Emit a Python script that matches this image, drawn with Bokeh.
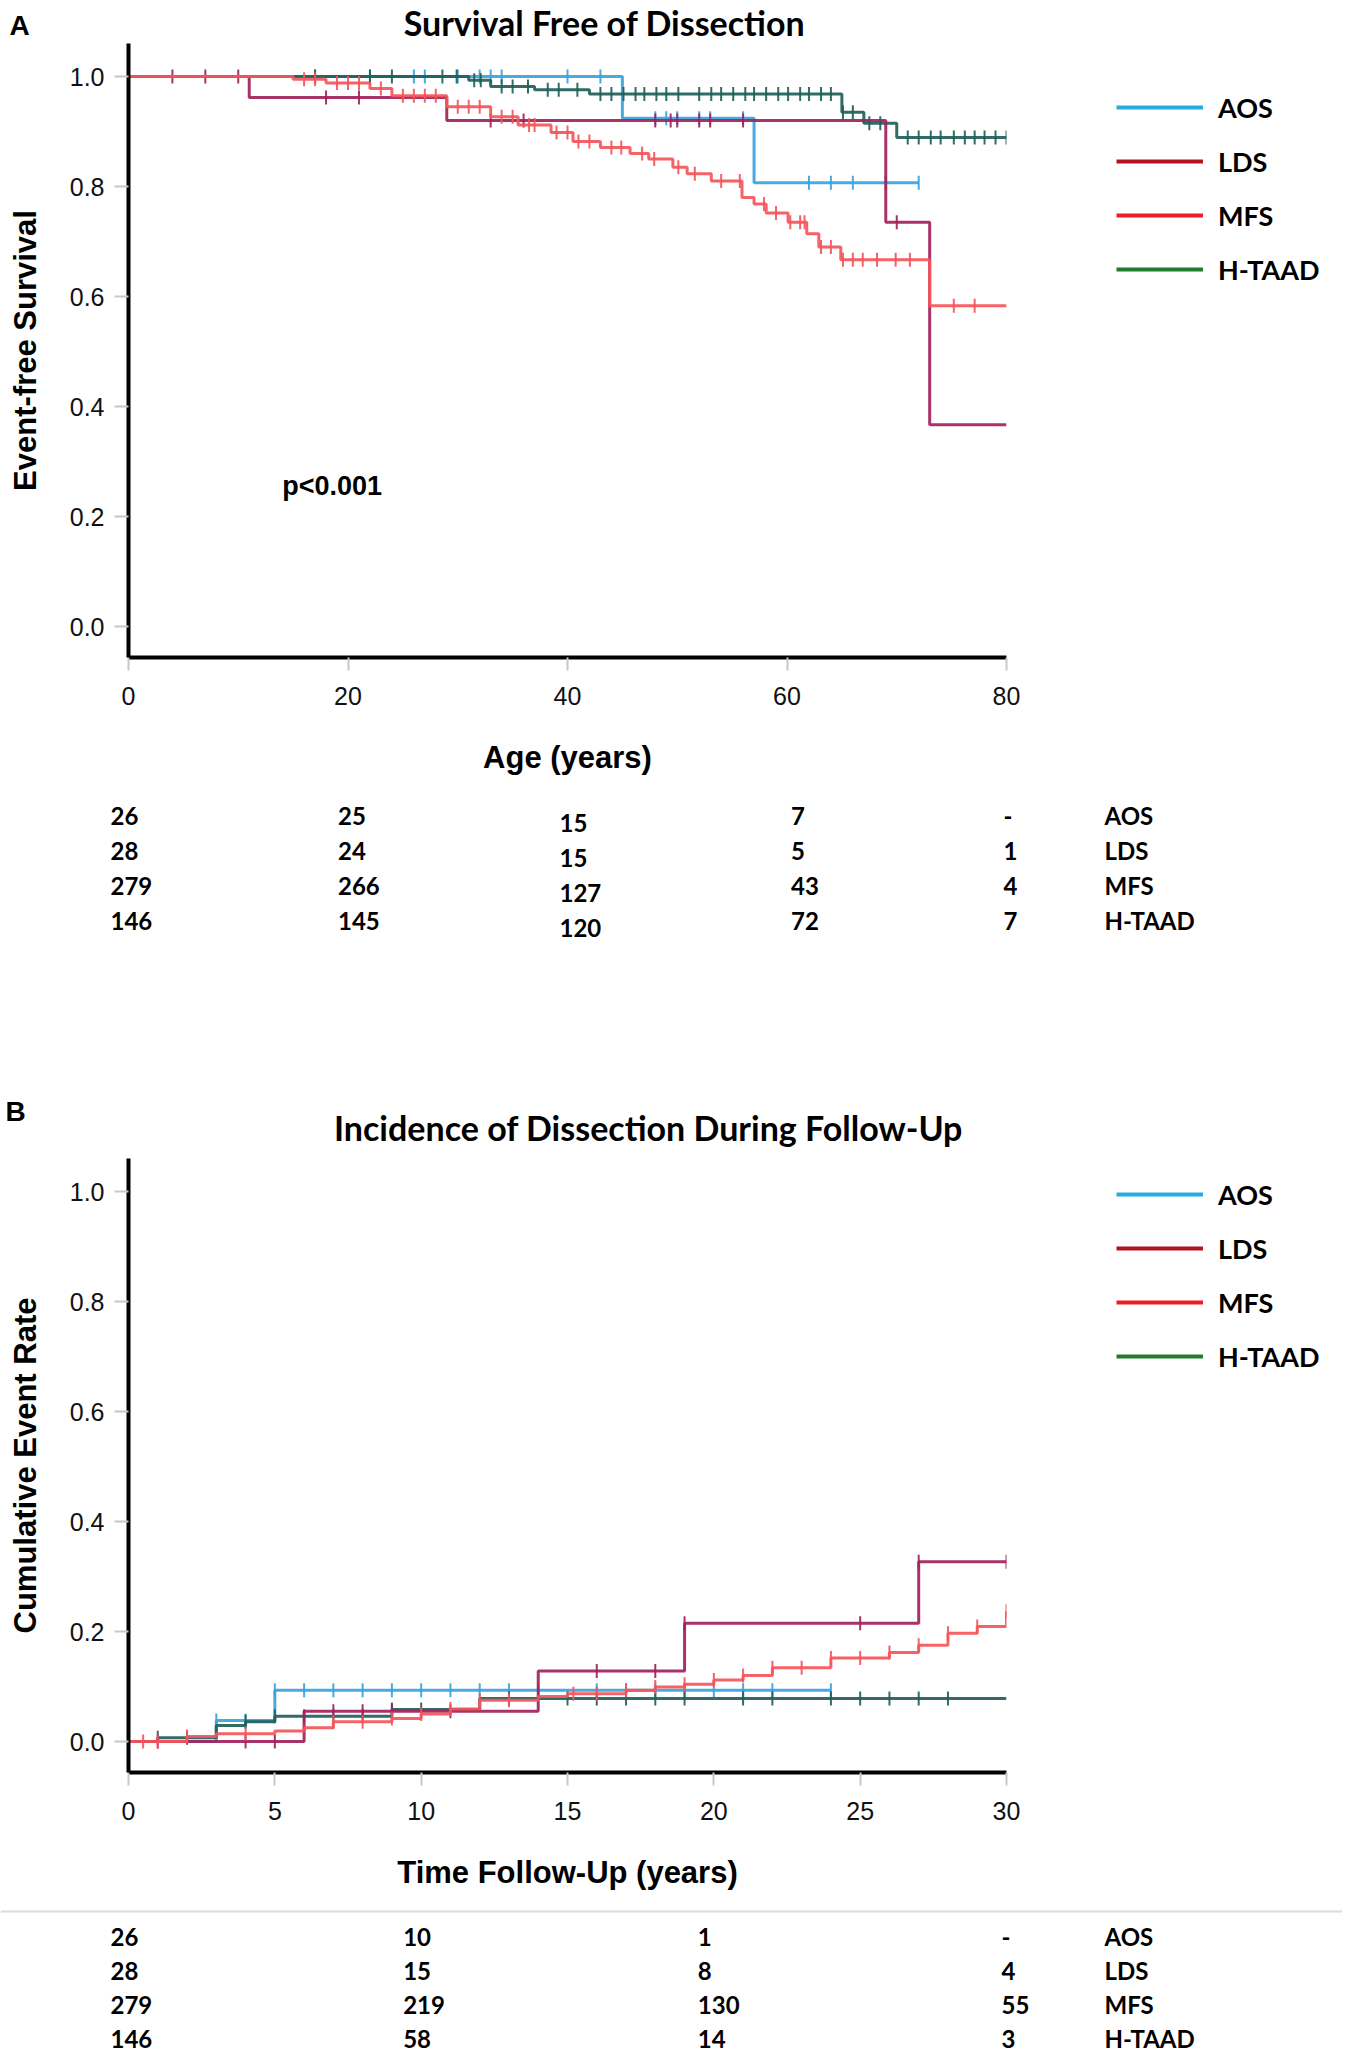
import numpy as np
from bokeh.plotting import figure
from bokeh.models import (Range1d, FixedTicker, PrintfTickFormatter, Legend, LegendItem, Span)
from bokeh.layouts import column, row
from bokeh.core.properties import value
from bokeh.embed import file_html
from bokeh.resources import INLINE

# ---------------- data ----------------
groups = ["AOS", "LDS", "MFS", "H-TAAD"]

# Panel A: survival free of dissection vs age (years)
a_aos_t = [0, 45, 57, 72]
a_aos_s = [1.0, 0.924, 0.807, 0.807]
a_aos_c = [17, 22, 26, 27, 30, 32, 33, 34, 40, 43, 48, 49, 50, 52, 53, 56, 62, 64, 66, 69, 72]

a_lds_t = [0, 11, 29, 69, 73, 80]
a_lds_s = [1.0, 0.962, 0.92, 0.735, 0.367, 0.367]
a_lds_c = [4, 7, 10, 18, 21, 33, 36, 48, 49.4, 50, 52, 53, 56, 70]

a_mfs_t = [0, 15, 18, 22, 24, 29, 33, 35.5, 38.5, 40.5, 43, 45.7, 47.4, 49.6, 50.9,
           53.1, 55.9, 57, 58.1, 60.1, 61.8, 62.9, 64.9, 73, 80]
a_mfs_s = [1.0, 0.995, 0.988, 0.978, 0.965, 0.945, 0.927, 0.912, 0.898, 0.882, 0.871,
           0.86, 0.85, 0.835, 0.823, 0.81, 0.78, 0.768, 0.752, 0.735, 0.714, 0.69,
           0.667, 0.583, 0.583]
a_mfs_c = [16, 17, 19, 20, 21, 23, 25, 26, 27, 28, 30, 31, 32, 34, 35, 36.5, 37, 39,
           40, 41, 42, 44, 44.9, 46.8, 47.9, 50.1, 51.6, 54, 55.7, 57.9, 59, 60.3,
           61.2, 61.6, 63.1, 64, 65.1, 66, 66.9, 68.2, 69.9, 71.2, 75.2, 77.1]

a_htaad_t = [0, 31, 33, 37, 42, 65, 67, 70, 80]
a_htaad_s = [1.0, 0.993, 0.982, 0.976, 0.968, 0.935, 0.915, 0.889, 0.889]
a_htaad_c = [17, 22, 24, 28.6, 29.9, 31.5, 32.1, 34, 35, 36.4, 38.2, 39.2, 40.9, 43,
             44, 45.1, 46.2, 47, 48.1, 49, 50.1, 52, 53.1, 54, 55.1, 56.2, 57, 58.1,
             59.2, 60.1, 61.2, 62, 63.1, 64, 65.1, 66, 67.5, 68.5, 71, 72, 73.1, 74,
             75.2, 76.2, 77.1, 78, 79, 80]

a_risk_times = [0, 20, 40, 60, 80]
a_risk = {
    "AOS": ["26", "25", "15", "7", "-"],
    "LDS": ["28", "24", "15", "5", "1"],
    "MFS": ["279", "266", "127", "43", "4"],
    "H-TAAD": ["146", "145", "120", "72", "7"],
}

# Panel B: cumulative incidence during follow-up (years)
b_aos_t = [0, 3, 5, 24]
b_aos_s = [0.0, 0.038, 0.093, 0.093]
b_aos_c = [3, 4, 5, 6, 7, 8, 9, 10, 11, 12, 13, 14, 16, 17, 18, 19, 20, 21, 22, 24]

b_lds_t = [0, 6, 14, 19, 27, 30]
b_lds_s = [0.0, 0.055, 0.128, 0.215, 0.327, 0.327]
b_lds_c = [1, 4, 5, 7, 8, 9, 11, 16, 18, 19, 25, 27, 30]

b_mfs_t = [0, 2, 3, 5, 6, 7, 9, 10, 11, 12, 14, 15, 17, 18, 19, 20, 21, 22, 24, 26,
           27, 28, 29, 30]
b_mfs_s = [0.0, 0.009, 0.014, 0.019, 0.025, 0.036, 0.042, 0.05, 0.059, 0.075, 0.082,
           0.087, 0.093, 0.099, 0.104, 0.112, 0.12, 0.134, 0.152, 0.162, 0.175, 0.197,
           0.209, 0.237]
b_mfs_c = [0.5, 1, 2, 4, 7, 8, 9, 10, 11, 12, 13, 15.2, 16, 17, 18, 19, 20, 21, 22,
           23, 24, 25, 26, 27, 28, 29, 30]

b_htaad_t = [0, 1, 3, 4, 5, 9, 12, 30]
b_htaad_s = [0.0, 0.007, 0.029, 0.036, 0.046, 0.058, 0.078, 0.078]
b_htaad_c = [1, 2, 4, 5, 6, 7, 8, 9, 10, 13, 15, 16, 17, 18, 19, 21, 22, 24, 25, 26,
             27, 28]

b_risk_times = [0, 10, 20, 30]
b_risk = {
    "AOS": ["26", "10", "1", "-"],
    "LDS": ["28", "15", "8", "4"],
    "MFS": ["279", "219", "130", "55"],
    "H-TAAD": ["146", "58", "14", "3"],
}

y_ticks = [0.0, 0.2, 0.4, 0.6, 0.8, 1.0]
a_x_ticks = [0, 20, 40, 60, 80]
b_x_ticks = [0, 5, 10, 15, 20, 25, 30]

# ---------------- styles / layout ----------------
plot_colors = {"AOS": "#3aa3de", "LDS": "#a2215b", "MFS": "#f4555a", "H-TAAD": "#1f5f59"}
legend_colors = {"AOS": "#29abe2", "LDS": "#b0151f", "MFS": "#ee1c25", "H-TAAD": "#237a2e"}
draw_order = ["AOS", "H-TAAD", "LDS", "MFS"]

FIG_W = 1342
BORDER_L = 128            # frame left inside main figure
FRAME_W = 878             # x axis pixel length
BORDER_R = 20
MAIN_W = BORDER_L + FRAME_W + BORDER_R
LEG_W = FIG_W - MAIN_W
FRAME_H = 614
BORDER_B = 133
MAIN_H = FRAME_H + BORDER_B
PX_PER_Y = 550.0
Y_MAX = 1.0 + 33.0 / PX_PER_Y
Y_MIN = Y_MAX - FRAME_H / PX_PER_Y
TXT = "Lato"
AXF = "Liberation Sans"


def value_at(ts, ss, c):
    i = int(np.searchsorted(np.asarray(ts, dtype=float), c, side="right")) - 1
    return ss[max(i, 0)]


def blank(width, height, xr, yr):
    p = figure(width=width, height=height, x_range=xr, y_range=yr,
               output_backend="svg", toolbar_location=None,
               min_border_left=0, min_border_right=0, min_border_top=0,
               min_border_bottom=0)
    p.axis.visible = False
    p.grid.visible = False
    p.outline_line_color = None
    p.background_fill_color = "white"
    p.border_fill_color = "white"
    return p


def head(top, bottom, letter, letter_xy, title, title_xy):
    p = blank(FIG_W, bottom - top, Range1d(0, FIG_W), Range1d(bottom, top))
    p.text(x=[letter_xy[0]], y=[letter_xy[1]], text=[letter], text_font=value(AXF),
           text_font_style="bold", text_font_size="28px", text_align="left",
           text_baseline="middle", text_color="black")
    p.text(x=[title_xy[0]], y=[title_xy[1]], text=[title], text_font=value(TXT),
           text_font_style="bold", text_font_size="34px", text_align="center",
           text_baseline="middle", text_color="black")
    return p


def main(x_end, x_ticks, curves, xlabel, ylabel, pval=None):
    p = figure(width=MAIN_W, height=MAIN_H, x_range=Range1d(0, x_end),
               y_range=Range1d(Y_MIN, Y_MAX), output_backend="svg",
               toolbar_location=None, min_border_left=BORDER_L,
               min_border_right=BORDER_R, min_border_top=0,
               min_border_bottom=BORDER_B)
    p.outline_line_color = None
    p.grid.visible = False
    p.background_fill_color = "white"
    p.border_fill_color = "white"
    for ax in (p.xaxis[0], p.yaxis[0]):
        ax.axis_line_width = 4
        ax.axis_line_color = "black"
        ax.major_tick_line_color = "#c8c8c8"
        ax.major_tick_line_width = 2
        ax.major_tick_in = 0
        ax.minor_tick_line_color = None
        ax.major_label_text_font = AXF
        ax.major_label_text_font_size = "25px"
        ax.major_label_text_color = "#111111"
        ax.axis_label_text_font = AXF
        ax.axis_label_text_font_style = "bold"
        ax.axis_label_text_font_size = "31px"
        ax.axis_label_text_color = "black"
    p.xaxis.ticker = FixedTicker(ticks=x_ticks)
    p.xaxis.major_tick_out = 13
    p.xaxis.major_label_standoff = 16
    p.xaxis.axis_label = xlabel
    p.xaxis.axis_label_standoff = 32
    p.yaxis.ticker = FixedTicker(ticks=y_ticks)
    p.yaxis.formatter = PrintfTickFormatter(format="%.1f")
    p.yaxis.major_tick_out = 14
    p.yaxis.major_label_standoff = 10
    p.yaxis.axis_label = ylabel
    p.yaxis.axis_label_standoff = 24

    for g in draw_order:
        ts, ss, cs = curves[g]
        col = plot_colors[g]
        p.step(ts, ss, mode="after", line_width=3, line_color=col, line_alpha=0.92)
        cy = [value_at(ts, ss, c) for c in cs]
        p.scatter(cs, cy, marker="dash", angle=np.pi / 2, size=14,
                  line_color=col, line_width=2, line_alpha=0.92)
    if pval is not None:
        p.text(x=[pval[0]], y=[pval[1]], text=[pval[2]], text_font=value(AXF),
               text_font_style="bold", text_font_size="27px", text_align="left",
               text_baseline="middle", text_color="black")
    return p


def legend_fig(leg_bottom_from_frame_bottom):
    # in a row, this figure's frame is aligned with the plot frame beside it
    p = blank(LEG_W, MAIN_H, Range1d(0, LEG_W), Range1d(0, 1))
    items = []
    for g in groups:
        r = p.line(x=[-50, -40], y=[-50, -50], line_color=legend_colors[g], line_width=4)
        items.append(LegendItem(label=g, renderers=[r]))
    lg = Legend(items=items, location=(90, leg_bottom_from_frame_bottom), padding=0,
                margin=0, border_line_color=None, background_fill_alpha=0,
                glyph_width=87, glyph_height=34, label_height=34, label_standoff=15,
                spacing=20, label_text_font=TXT, label_text_font_style="bold",
                label_text_font_size="27px", label_text_color="black")
    p.add_layout(lg)
    return p


def table(height, x_end, risk_times, risk, row0, row_gap, col_dy, col_dx, sep=None):
    pxu = FRAME_W / x_end
    xr = Range1d(-BORDER_L / pxu, (FIG_W - BORDER_L) / pxu)
    p = blank(FIG_W, height, xr, Range1d(height, 0))
    xs, ys, txt = [], [], []
    for ri, g in enumerate(groups):
        for ci, t in enumerate(risk_times):
            xs.append(t + col_dx[ci] / pxu)
            ys.append(row0 + row_gap * ri + col_dy[ci])
            txt.append(risk[g][ci])
    p.text(x=xs, y=ys, text=txt, text_font=value(TXT),
           text_font_style="bold", text_font_size="24px", text_align="left",
           text_baseline="middle", text_color="black")
    p.text(x=[x_end] * 4, y=[row0 + row_gap * ri for ri in range(4)], text=groups,
           x_offset=98, text_font=value(TXT), text_font_style="bold",
           text_font_size="24px", text_align="left", text_baseline="middle",
           text_color="black")
    if sep is not None:
        p.add_layout(Span(location=sep, dimension="width", line_color="#dcdcdc",
                          line_width=2))
    return p


curves_a = {
    "AOS": (a_aos_t, a_aos_s, a_aos_c),
    "LDS": (a_lds_t, a_lds_s, a_lds_c),
    "MFS": (a_mfs_t, a_mfs_s, a_mfs_c),
    "H-TAAD": (a_htaad_t, a_htaad_s, a_htaad_c),
}
curves_b = {
    "AOS": (b_aos_t, b_aos_s, b_aos_c),
    "LDS": (b_lds_t, b_lds_s, b_lds_c),
    "MFS": (b_mfs_t, b_mfs_s, b_mfs_c),
    "H-TAAD": (b_htaad_t, b_htaad_s, b_htaad_c),
}

# panel A (reference y: head 0-43, plot 43-790, table 790-1000)
head_a = head(0, 43, "A", (9, 25), "Survival Free of Dissection", (604, 22))
main_a = main(80, a_x_ticks, curves_a, "Age (years)", "Event-free Survival",
              pval=(14.0, 0.255, "p<0.001"))
leg_a = legend_fig(371)
tab_a = table(210, 80, a_risk_times, a_risk, 25, 35, [0, 0, 7, 0, 0],
              [-18, -10, -8, 4, -3])

# panel B (reference y: head 1000-1158, plot 1158-1905, table 1905-2053)
head_b = head(1000, 1158, "B", (5, 1111), "Incidence of Dissection During Follow-Up",
              (648, 1127))
main_b = main(30, b_x_ticks, curves_b, "Time Follow-Up (years)", "Cumulative Event Rate")
leg_b = legend_fig(399)
tab_b = table(148, 30, b_risk_times, b_risk, 31, 34, [0, 0, 0, 0],
              [-18, -18, -16, -5], sep=6)

layout = column(head_a, row(main_a, leg_a, spacing=0), tab_a,
                head_b, row(main_b, leg_b, spacing=0), tab_b, spacing=0)
open("out.html", "w").write(file_html(layout, INLINE))
